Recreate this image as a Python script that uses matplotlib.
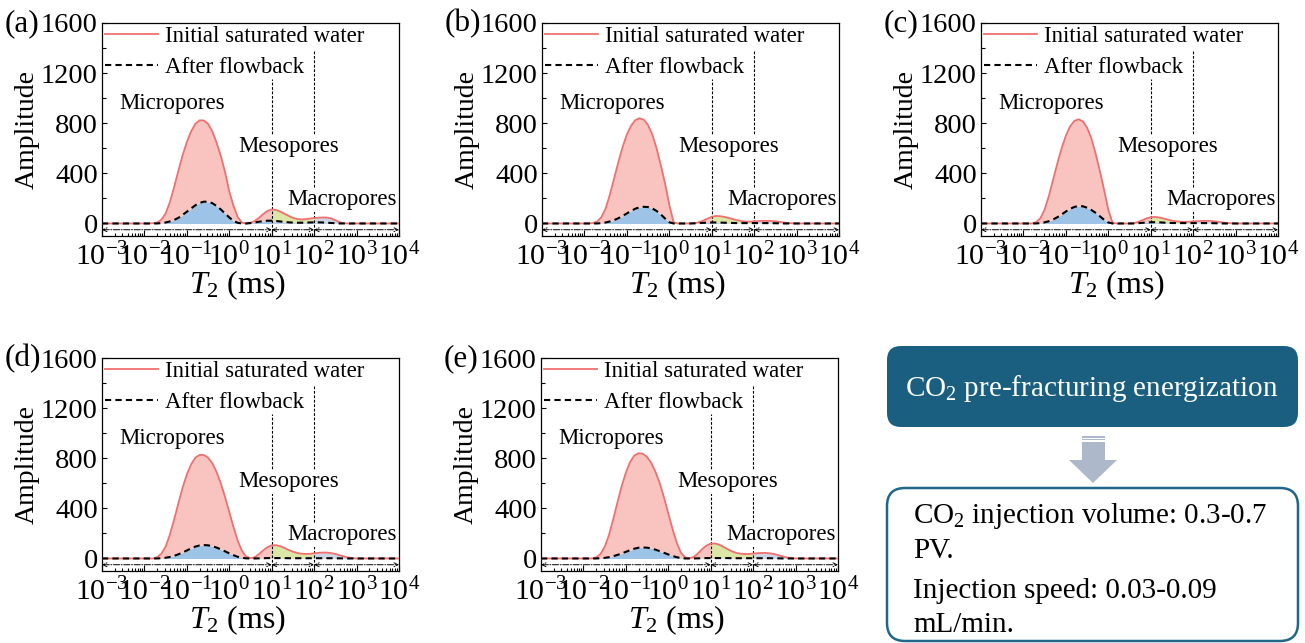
import numpy as np
import matplotlib
matplotlib.use("Agg")
import matplotlib.pyplot as plt
from matplotlib.patches import FancyBboxPatch, Rectangle, Polygon
from matplotlib.ticker import LogLocator, MultipleLocator, NullFormatter

plt.rcParams["font.family"] = "Liberation Serif"
plt.rcParams["mathtext.fontset"] = "custom"
plt.rcParams["mathtext.rm"] = "Liberation Serif"
plt.rcParams["mathtext.it"] = "Liberation Serif:italic"

# ---- data -----------------------------------------------------------------
# T2 grid (log10 of ms), 0.1-decade steps from 10^-2 to 10^3
LOG_T2 = np.round(np.arange(-2.0, 3.01, 0.1), 1)

PANEL_LABELS = ["(a)", "(b)", "(c)", "(d)", "(e)"]

INITIAL_A = [0, 0, 2, 8, 30, 80, 170, 290, 420, 545, 650, 735, 795, 823, 822, 795, 735, 645, 540, 410, 255, 140, 50, 6, 0,
             5, 20, 45, 75, 100, 112, 108, 95, 78, 60, 45, 36, 32, 34, 39, 44, 46, 48, 47, 40, 26, 10, 2, 0, 0, 0]
FLOWBACK_A = [0, 0, 0, 0, 3, 8, 16, 28, 45, 68, 94, 120, 145, 164, 174, 173, 162, 140, 112, 80, 48, 20, 5, 0, 0,
              3, 8, 14, 19, 22, 22, 20, 16, 12, 9, 7, 6, 6, 7, 8, 9, 9, 8, 6, 4, 2, 0, 0, 0, 0, 0]

INITIAL_B = [0, 0, 3, 15, 50, 120, 230, 360, 490, 610, 710, 780, 825, 840, 828, 785, 710, 600, 465, 320, 150, 10, 0, 0, 0,
             0, 3, 10, 22, 38, 53, 60, 58, 52, 44, 35, 26, 19, 15, 15, 17, 19, 21, 21, 20, 17, 13, 8, 4, 1, 0]
FLOWBACK_B = [0, 0, 0, 0, 3, 8, 16, 27, 42, 60, 80, 100, 118, 129, 133, 131, 120, 100, 72, 40, 10, 0, 0, 0, 0,
              0, 1, 3, 5, 7, 8, 8, 7, 6, 5, 4, 3, 3, 3, 3, 3, 3, 3, 3, 2, 2, 1, 0, 0, 0, 0]

INITIAL_C = [0, 0, 0, 10, 42, 110, 220, 350, 480, 600, 700, 775, 818, 832, 815, 765, 680, 560, 420, 270, 110, 5, 0, 0, 0,
             0, 3, 12, 26, 40, 50, 52, 48, 40, 31, 23, 17, 14, 13, 14, 16, 18, 20, 21, 20, 17, 13, 8, 4, 1, 0]
FLOWBACK_C = [0, 0, 0, 0, 3, 9, 18, 32, 50, 72, 95, 116, 132, 139, 137, 126, 108, 85, 58, 30, 8, 0, 0, 0, 0,
              0, 0, 2, 5, 8, 10, 10, 9, 7, 5, 4, 3, 3, 3, 3, 3, 3, 3, 3, 3, 2, 1, 0, 0, 0, 0]

INITIAL_D = [0, 0, 0, 10, 38, 95, 190, 310, 440, 565, 670, 750, 805, 826, 826, 805, 760, 690, 600, 490, 370, 250, 140, 60, 15,
             2, 10, 35, 65, 90, 105, 106, 98, 84, 68, 54, 44, 38, 36, 37, 41, 45, 47, 47, 43, 36, 26, 16, 8, 3, 0]
FLOWBACK_D = [0, 0, 0, 0, 2, 6, 12, 21, 33, 48, 64, 80, 95, 104, 107, 105, 98, 87, 73, 57, 41, 26, 13, 5, 1,
              0, 0, 1, 2, 3, 3, 3, 3, 3, 2, 2, 2, 2, 2, 2, 2, 2, 2, 2, 2, 1, 1, 0, 0, 0, 0]

INITIAL_E = [0, 0, 0, 8, 35, 92, 185, 310, 445, 575, 685, 770, 822, 840, 836, 810, 762, 690, 600, 485, 360, 235, 125, 45, 8,
             2, 12, 40, 75, 103, 118, 120, 110, 93, 74, 57, 45, 38, 35, 36, 39, 42, 44, 44, 41, 35, 26, 16, 8, 3, 0]
FLOWBACK_E = [0, 0, 0, 0, 2, 5, 10, 18, 28, 40, 53, 66, 78, 86, 88, 86, 80, 70, 58, 45, 32, 20, 10, 3, 0,
              0, 0, 1, 2, 3, 3, 3, 3, 3, 3, 2, 2, 2, 2, 2, 2, 2, 2, 2, 2, 1, 1, 0, 0, 0, 0]

INITIAL = [INITIAL_A, INITIAL_B, INITIAL_C, INITIAL_D, INITIAL_E]
FLOWBACK = [FLOWBACK_A, FLOWBACK_B, FLOWBACK_C, FLOWBACK_D, FLOWBACK_E]

PORE_BOUNDS = [1e-3, 10, 100, 1e4]       # micro | meso | macro limits (ms)
PORE_NAMES = ["Micropores", "Mesopores", "Macropores"]
PORE_LABEL_POS = [(10 ** -1.35, 960), (10 ** 1.41, 613), (10 ** 2.65, 190)]
DIVIDER_TOP = [1150, 1375]                # upper ends of the two boundary lines

SERIES_NAMES = ["Initial saturated water", "After flowback"]
BOX_TITLE = "CO$_2$ pre-fracturing energization"
BOX_LINES = ["CO$_2$ injection volume: 0.3-0.7", "PV.", "Injection speed: 0.03-0.09", "mL/min."]

# ---- style ----------------------------------------------------------------
RED = "#F06F6F"
PINK = "#F9C4C0"
BLUE = "#9DC3E6"
OLIVE = "#DCE6A6"
PALEBLUE = "#B9CFE8"
GREY = "#CDD6E5"
TEAL = "#1A5F80"

W, H = 1305, 643
fig = plt.figure(figsize=(W / 100, H / 100), dpi=100)

# flowchart layer (pixel coordinates)
axf = fig.add_axes([0, 0, 1, 1])
axf.set_xlim(0, W)
axf.set_ylim(H, 0)
axf.axis("off")
axf.add_patch(FancyBboxPatch((887, 346), 411, 81, boxstyle="round,pad=0,rounding_size=14",
                             fc=TEAL, ec="none"))
axf.text(1092, 388, BOX_TITLE, color="white", fontsize=21, ha="center", va="center")
ARROW_C = "#ADB9CA"
axf.add_patch(Rectangle((1082, 436), 23, 1.6, fc=ARROW_C, ec="none"))
axf.add_patch(Rectangle((1082, 438.8), 23, 1.6, fc=ARROW_C, ec="none"))
axf.add_patch(Rectangle((1082, 441.6), 23, 19, fc=ARROW_C, ec="none"))
axf.add_patch(Polygon([(1069, 460), (1117, 460), (1093, 483)], closed=True, fc=ARROW_C, ec="none"))
axf.add_patch(FancyBboxPatch((887, 488), 411, 153, boxstyle="round,pad=0,rounding_size=18",
                             fc="white", ec="#1F6688", lw=1.8))
for txt, yb in zip(BOX_LINES, [523, 558, 598, 632]):
    axf.text(913, yb, txt, fontsize=21, ha="left", va="baseline", color="black")

# panel placement in pixels: left, right, top, bottom
PANEL_BOXES = [(102, 399, 23, 236), (542, 839, 23, 236), (981, 1278, 23, 236),
               (102, 399, 358, 571), (541, 838, 358, 571)]


def draw_panel(ax, label, initial, flowback):
    t2 = np.concatenate(([PORE_BOUNDS[0]], 10.0 ** LOG_T2, [PORE_BOUNDS[-1]]))
    ini = np.concatenate(([0.0], np.asarray(initial, float), [0.0]))
    fb = np.concatenate(([0.0], np.asarray(flowback, float), [0.0]))
    lg = np.log10(t2)
    b1, b2 = np.log10(PORE_BOUNDS[1]), np.log10(PORE_BOUNDS[2])
    micro = lg <= b1 + 1e-9
    meso = (lg >= b1 - 1e-9) & (lg <= b2 + 1e-9)
    macro = lg >= b2 - 1e-9

    ax.fill_between(t2, 0, fb, where=micro, color=BLUE, lw=0, zorder=1)
    ax.fill_between(t2, fb, ini, where=micro, color=PINK, lw=0, zorder=1)
    ax.fill_between(t2, 0, fb, where=meso, color=PALEBLUE, lw=0, zorder=1)
    ax.fill_between(t2, fb, ini, where=meso, color=OLIVE, lw=0, zorder=1)
    ax.fill_between(t2, 0, fb, where=macro, color=PALEBLUE, lw=0, zorder=1)
    ax.fill_between(t2, fb, ini, where=macro, color=GREY, lw=0, zorder=1)

    ax.plot(t2, ini, color=RED, lw=1.3, label=SERIES_NAMES[0], zorder=3)
    ax.plot(t2, fb, color="black", lw=1.5, ls=(0, (3, 2)), label=SERIES_NAMES[1], zorder=4)

    # boundary lines between pore classes
    for xb, top in zip(PORE_BOUNDS[1:3], DIVIDER_TOP):
        ax.plot([xb, xb], [-100, top], color="black", lw=0.8, ls=(0, (2.5, 1.5)), zorder=2.5)

    # range arrows along the bottom
    for a, b in zip(PORE_BOUNDS[:-1], PORE_BOUNDS[1:]):
        ax.annotate("", xy=(b, -50), xytext=(a, -50),
                    arrowprops=dict(arrowstyle="<->", ls="-.", lw=0.7, color="black",
                                    shrinkA=0, shrinkB=0, mutation_scale=7), zorder=3)

    for name, (xp, yp) in zip(PORE_NAMES, PORE_LABEL_POS):
        ax.text(xp, yp, name, fontsize=16.5, ha="center", va="center", zorder=5,
                bbox=dict(facecolor="white", edgecolor="none", pad=1.0))

    ax.set_xscale("log")
    ax.set_xlim(PORE_BOUNDS[0], PORE_BOUNDS[-1])
    ax.set_ylim(-100, 1600)
    ax.xaxis.set_major_locator(LogLocator(base=10, numticks=20))
    ax.xaxis.set_minor_locator(LogLocator(base=10, subs=np.arange(2, 10), numticks=20))
    ax.xaxis.set_minor_formatter(NullFormatter())
    ax.yaxis.set_major_locator(MultipleLocator(400))
    ax.yaxis.set_minor_locator(MultipleLocator(200))
    ax.tick_params(axis="both", which="both", direction="in", top=False, right=False, width=0.8)
    ax.tick_params(axis="x", which="major", length=4, pad=5, labelsize=21.5)
    ax.tick_params(axis="x", which="minor", length=2.5)
    ax.tick_params(axis="y", which="major", length=3.5, pad=3, labelsize=20.5)
    ax.tick_params(axis="y", which="minor", length=3)
    for s in ax.spines.values():
        s.set_linewidth(0.9)

    ax.set_xlabel("$T_2$ (ms)", fontsize=23)
    ax.xaxis.set_label_coords(0.455, -0.15)
    ax.set_ylabel("Amplitude", fontsize=20, labelpad=1)
    ax.legend(loc="upper left", bbox_to_anchor=(0, 1), frameon=False, fontsize=16.5,
              handlelength=2.3, handletextpad=0.3, labelspacing=0.4,
              borderpad=0.15, borderaxespad=0)


for (l, r, t, b), lab, ini, fb in zip(PANEL_BOXES, PANEL_LABELS, INITIAL, FLOWBACK):
    ax = fig.add_axes([l / W, 1 - b / H, (r - l) / W, (b - t) / H])
    draw_panel(ax, lab, ini, fb)
    fig.text((l - 97) / W, 1 - (t + 1) / H, lab, fontsize=22.5, ha="left", va="center")

fig.savefig("out.png", dpi=100)
